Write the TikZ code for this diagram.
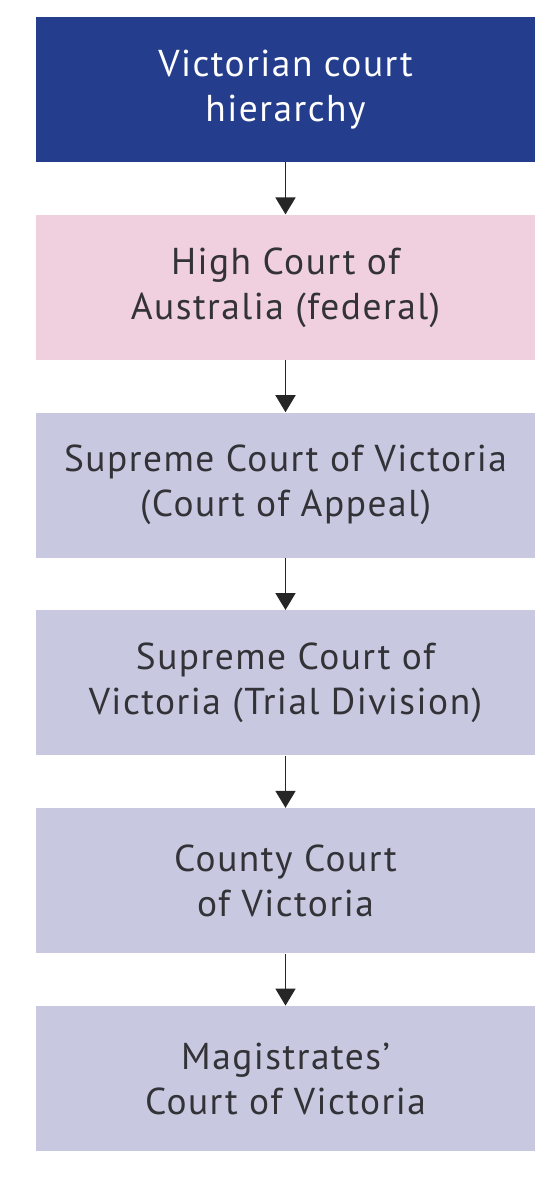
\documentclass[tikz,border=0pt]{standalone}
\usepackage{fontspec}
\setmainfont[LetterSpace=4]{PT Sans}
\usetikzlibrary{positioning,arrows.meta}
\definecolor{courtblue}{RGB}{36,61,140}
\definecolor{courtpink}{RGB}{240,208,222}
\definecolor{courtlilac}{RGB}{200,200,225}
\definecolor{courttext}{RGB}{50,50,55}
\tikzset{
  courtbox/.style={fill=courtlilac, text=courttext, minimum width=249.5pt, minimum height=72.5pt,
    align=center, inner sep=0pt, font=\fontsize{18.7}{22.5}\selectfont},
  link/.style={-{Triangle[width=10pt,length=8.5pt]}, line width=0.9pt, black!85}
}
\begin{document}
\begin{tikzpicture}
            \useasboundingbox (0,0) rectangle (278pt,-600pt);
            \node[courtbox, fill=courtblue, text=white] (top) at (142.75pt,-44.75pt) {Victorian court\\hierarchy};
            \node[courtbox, fill=courtpink, below=26pt of top] (high) {High Court of\\Australia (federal)};
            \node[courtbox, below=26pt of high] (appeal) {Supreme Court of Victoria\\(Court of Appeal)};
            \node[courtbox, below=26pt of appeal] (trial) {Supreme Court of\\Victoria (Trial Division)};
            \node[courtbox, below=26pt of trial] (county) {County Court\\of Victoria};
            \node[courtbox, below=26pt of county] (magis) {Magistrates’\\Court of Victoria};
            \foreach \a/\b in {top/high, high/appeal, appeal/trial, trial/county, county/magis}
                \draw[link] (\a) -- (\b);
        \end{tikzpicture}
\end{document}
